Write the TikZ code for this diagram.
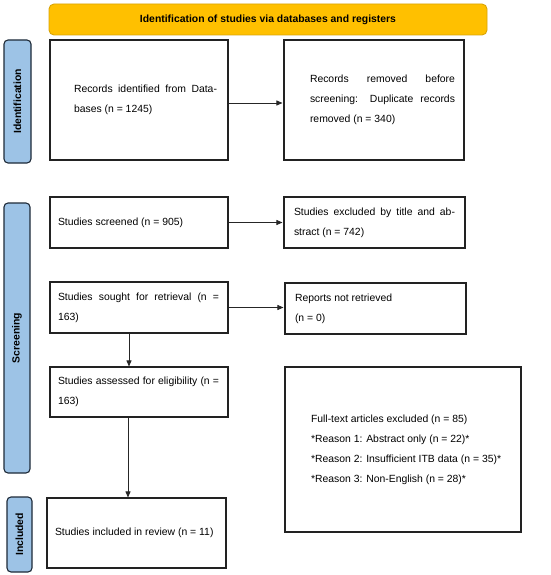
\documentclass[tikz,border=0pt]{standalone}
\usepackage{fontspec}
\setmainfont{Liberation Sans}
\usetikzlibrary{arrows.meta}
\definecolor{bannerfill}{HTML}{FFC000}
\definecolor{bannerline}{HTML}{D9A406}
\definecolor{sidefill}{HTML}{9DC3E6}
\definecolor{sideline}{HTML}{1E2A38}
\definecolor{boxline}{HTML}{222222}
\newcommand{\bxt}[4]{\makebox[#1pt][l]{\hspace*{#2pt}\parbox{#3pt}{\fontsize{10.4}{20}\selectfont #4}}}
\tikzset{
  flowbox/.style={draw=boxline, line width=1.1pt, fill=white, inner sep=0pt, rectangle},
  sidebox/.style={draw=sideline, line width=1.1pt, fill=sidefill, rounded corners=4pt, inner sep=0pt, font=\fontsize{10.4}{12}\selectfont\bfseries},
  banner/.style={draw=bannerline, line width=0.9pt, fill=bannerfill, rounded corners=5pt, inner sep=0pt, font=\fontsize{10.4}{12}\selectfont\bfseries},
  arr/.style={draw=black!85, line width=0.8pt, -{Triangle[length=6pt,width=5pt]}}
}
\begin{document}
\begin{tikzpicture}[x=1pt,y=-1pt]
\useasboundingbox (0,0) rectangle (550,575);
\fill[white] (0,0) rectangle (550,575);
% banner
\node[banner, minimum width=438pt, minimum height=31pt] (ban) at (268,19.5) {Identification of studies via databases and registers};
% side labels
\node[sidebox, minimum width=27pt, minimum height=123pt] (sid) at (17.5,101.5) {\rotatebox{90}{Identification}};
\node[sidebox, minimum width=26pt, minimum height=270pt] (sscr) at (17,338) {\rotatebox{90}{Screening}};
\node[sidebox, minimum width=25pt, minimum height=75pt] (sinc) at (19.5,534.5) {\rotatebox{90}{Included}};
% boxes
\node[flowbox, minimum width=178pt, minimum height=120pt] (rec) at (139,100)
  {\bxt{178}{24}{143}{Records identified from Data-\linebreak bases (n = 1245)}};
\node[flowbox, minimum width=180pt, minimum height=120pt] (rem) at (374,100)
  {\bxt{180}{26}{145}{Records removed before\linebreak screening: Duplicate records\linebreak removed (n = 340)}};
\node[flowbox, minimum width=178pt, minimum height=51pt] (scr) at (139,222.5)
  {\bxt{178}{8}{161}{Studies screened (n = 905)}};
\node[flowbox, minimum width=181pt, minimum height=51pt] (exc) at (374.5,222.5)
  {\bxt{181}{10}{161}{Studies excluded by title and ab-\linebreak stract (n = 742)}};
\node[flowbox, minimum width=178pt, minimum height=51pt] (sou) at (139,307.5)
  {\bxt{178}{8}{161}{Studies sought for retrieval (n =\linebreak 163)}};
\node[flowbox, minimum width=181pt, minimum height=51pt] (rep) at (375.5,308.5)
  {\bxt{181}{10}{161}{Reports not retrieved\\{}(n = 0)}};
\node[flowbox, minimum width=178pt, minimum height=50pt] (ass) at (139,392)
  {\bxt{178}{8}{161}{Studies assessed for eligibility (n =\linebreak 163)}};
\node[flowbox, minimum width=236pt, minimum height=165pt] (ful) at (403,449.5)
  {\bxt{236}{26}{205}{Full-text articles excluded (n = 85)\\{}*Reason 1: Abstract only (n = 22)*\\{}*Reason 2: Insufficient ITB data (n = 35)*\\{}*Reason 3: Non-English (n = 28)*}};
\node[flowbox, minimum width=179pt, minimum height=70pt] (inc) at (136.5,533)
  {\bxt{179}{8}{168}{Studies included in review (n = 11)}};
% arrows
\draw[arr] ([yshift=-3pt]rec.east) -- ([yshift=-3pt,xshift=-1pt]rem.west);
\draw[arr] (scr.east) -- ([xshift=-1pt]exc.west);
\draw[arr] (sou.east) -- ([xshift=-1pt]rep.west |- sou.east);
\draw[arr] ([xshift=-10pt]sou.south) -- ([xshift=-10pt]sou.south |- ass.north);
\draw[arr] ([xshift=-11pt]ass.south) -- ([xshift=-11pt]ass.south |- inc.north);
\end{tikzpicture}
\end{document}
